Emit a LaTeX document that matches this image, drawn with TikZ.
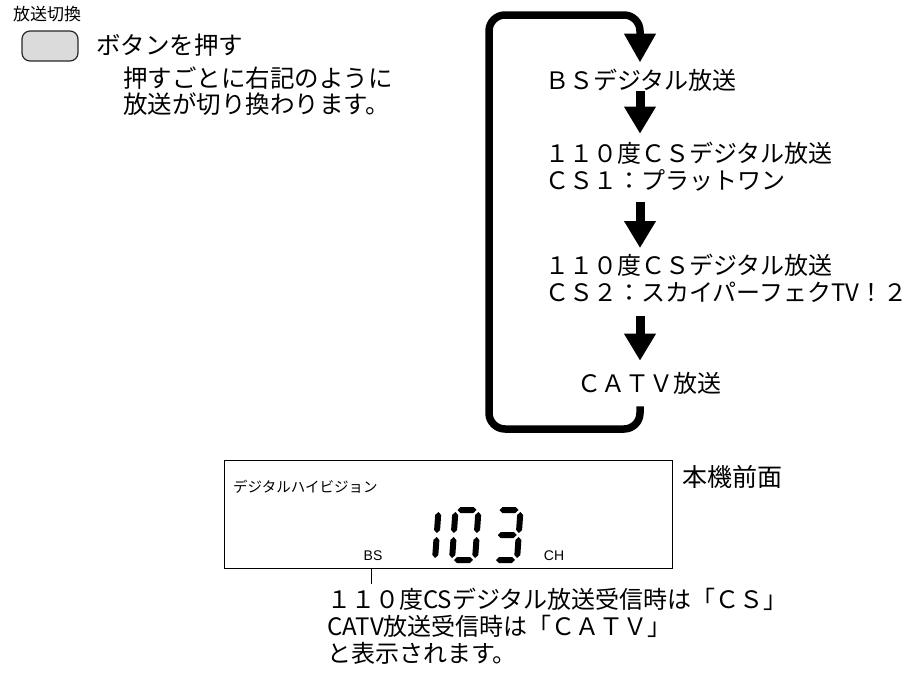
\documentclass[tikz,border=0pt]{standalone}
\usepackage{fontspec}
\setmainfont{Noto Sans CJK JP}
\newfontfamily\lcdfont{Liberation Sans}
\usetikzlibrary{arrows.meta}

% LCD segments: horizontal {left}{right}{y}, vertical {lower}{upper}{x}
\newcommand{\lcdh}[3]{\fill (#1,#3) -- (#1+3,#3-3) -- (#2-3,#3-3) -- (#2,#3) -- (#2-3,#3+3) -- (#1+3,#3+3) -- cycle;}
\newcommand{\lcdv}[3]{\fill (#3,#1) -- (#3+3,#1-3) -- (#3+3,#2+3) -- (#3,#2) -- (#3-3,#2+3) -- (#3-3,#1-3) -- cycle;}

\begin{document}
\begin{tikzpicture}[x=1pt,y=-1pt,
  loopline/.style={line width=7.5pt,rounded corners=16pt,-{Triangle[width=30pt,length=29pt]}},
  flowarrow/.style={line width=9pt,-{Triangle[width=30pt,length=27pt]}},
  flowtext/.style={anchor=west,inner sep=0pt,align=left,font=\fontsize{24}{27}\selectfont}]
  \useasboundingbox (0,0) rectangle (908,675);

  % button and its notes
  \node[anchor=west,inner sep=0pt,font=\fontsize{17}{17}\selectfont] (title) at (13,14) {放送切換};
  \node[draw=black!85,fill=gray!28,line width=1.2pt,rounded corners=8pt,minimum width=56pt,minimum height=30pt] (button) at (50,46) {};
  \node[anchor=west,inner sep=0pt,font=\fontsize{24.5}{26}\selectfont] (press) at (96,45) {ボタンを押す};
  \node[anchor=west,inner sep=0pt,align=left,font=\fontsize{24.5}{26}\selectfont] (note) at (123,91.5) {押すごとに右記のように\\放送が切り換わります。};

  % broadcast cycle
  \coordinate (col) at (640,0);
  \node[flowtext] (bs) at (545,80) {ＢＳデジタル放送};
  \node[flowtext] (cs1) at (545,166.5) {１１０度ＣＳデジタル放送\\ＣＳ１：プラットワン};
  \node[flowtext] (cs2) at (545,278.5) {１１０度ＣＳデジタル放送\\ＣＳ２：スカイパーフェクTV！２};
  \node[flowtext] (catv) at (577,383) {ＣＡＴＶ放送};
  \draw[flowarrow] (col |- bs.south) -- ([yshift=8pt]col |- cs1.north);
  \draw[flowarrow] ([yshift=-11pt]col |- cs1.south) -- ([yshift=6pt]col |- cs2.north);
  \draw[flowarrow] ([yshift=-13pt]col |- cs2.south) -- ([yshift=11pt]col |- catv.north);
  \draw[loopline] ([yshift=-12pt]col |- catv.south) -- (640,429) -- (489,429) -- (489,15) -- (640,15) -- ([yshift=6pt]col |- bs.north);

  % front panel
  \node[draw,line width=1.2pt,minimum width=448pt,minimum height=108pt,inner sep=0pt,anchor=north west] (panel) at (224,460) {};
  \node[anchor=west,inner sep=0pt,font=\fontsize{14.5}{15}\selectfont] (hivision) at (233,487) {デジタルハイビジョン};
  \node[anchor=west,inner sep=0pt,font=\fontsize{25}{25}\selectfont] (front) at (682,477) {本機前面};
  \node[inner sep=0pt,font=\lcdfont\fontsize{14}{14}\selectfont] (lbs) at (373,556) {BS};
  \node[inner sep=0pt,font=\lcdfont\fontsize{14}{14}\selectfont] (lch) at (554,556) {CH};
  \begin{scope}[shift={(414,560)},xslant=0.07]
    \lcdv{-2}{-23}{21} \lcdv{-27}{-48}{21}
  \end{scope}
  \begin{scope}[shift={(452,560)},xslant=0.07]
    \lcdh{2}{21}{-50} \lcdh{2}{21}{0}
    \lcdv{-2}{-23}{0} \lcdv{-27}{-48}{0}
    \lcdv{-2}{-23}{23} \lcdv{-27}{-48}{23}
  \end{scope}
  \begin{scope}[shift={(494,560)},xslant=0.07]
    \lcdh{2}{21}{-50} \lcdh{2}{21}{-25} \lcdh{2}{21}{0}
    \lcdv{-2}{-23}{23} \lcdv{-27}{-48}{23}
  \end{scope}
  \coordinate (tickend) at (371,584);
  \draw[line width=1pt] (tickend |- panel.south) -- (tickend);
  \node[anchor=north west,inner sep=0pt,align=left,font=\fontsize{24}{27}\selectfont] (remark) at (327,588) {１１０度CSデジタル放送受信時は「ＣＳ」\\CATV放送受信時は「ＣＡＴＶ」\\と表示されます。};
\end{tikzpicture}
\end{document}
